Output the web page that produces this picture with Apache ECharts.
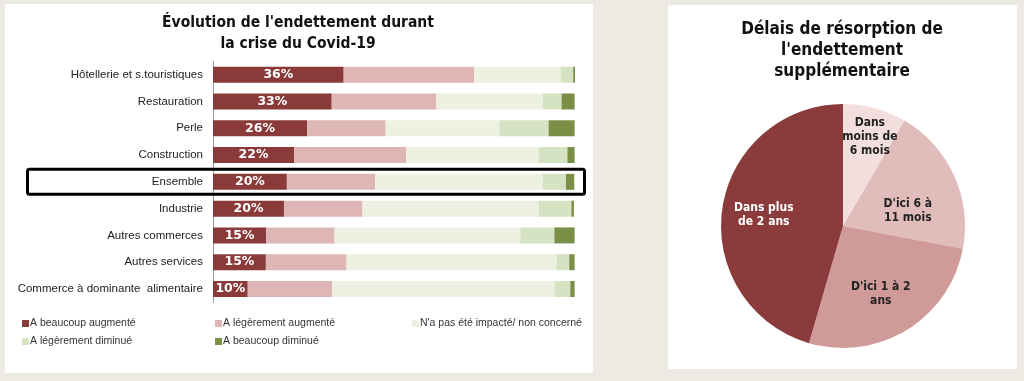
<!DOCTYPE html>
<html>
<head>
<meta charset="utf-8">
<script src="https://cdn.jsdelivr.net/npm/echarts@6/dist/echarts.min.js"></script>
<style>
html,body{margin:0;padding:0;background:#edeae3;}
#c{width:1024px;height:381px;}
</style>
</head>
<body>
<div id="c"></div>
<script>
// ---- Data ----
const categories = ['Hôtellerie et s.touristiques','Restauration','Perle','Construction','Ensemble','Industrie','Autres commerces','Autres services','Commerce à dominante  alimentaire'];
const seriesNames = ['A beaucoup augmenté','A légèrement augmenté',"N'a pas été impacté/ non concerné",'A légèrement diminué','A beaucoup diminué'];
const beaucoupAugmente = [36.1, 32.8, 26, 22.4, 20.4, 19.6, 14.7, 14.6, 9.6];
const legerementAugmente = [36.1, 28.9, 21.7, 31, 24.4, 21.7, 18.9, 22.3, 23.3];
const nonImpacte = [23.8, 29.4, 31.4, 36.5, 46.3, 48.7, 51.3, 58, 61.4];
const legerementDiminue = [3.5, 5.2, 13.6, 8, 6.4, 9, 9.4, 3.5, 4.4];
const beaucoupDiminue = [0.5, 3.6, 7.2, 2, 2.3, 0.7, 5.6, 1.5, 1.2];
const highlightCategory = 'Ensemble';

const pieNames = ['Dans moins de 6 mois', "D'ici 6 à 11 mois", "D'ici 1 à 2 ans", 'Dans plus de 2 ans'];
const pieLabels = ['Dans\nmoins de\n6 mois', "D'ici 6 à\n11 mois", "D'ici 1 à 2\nans", 'Dans plus\nde 2 ans'];
const pieValues = [8.4, 19.6, 26.5, 45.5];

const leftTitle = ["Évolution de l'endettement durant", 'la crise du Covid-19'];
const rightTitle = ['Délais de résorption de', "l'endettement", 'supplémentaire'];

// ---- Styles ----
const barColors = ['#8b3a3a', '#dfb6b6', '#ecf1e1', '#d6e3c2', '#7b9046'];
const pieColors = ['#f2dedd', '#e0bcba', '#cf9a98', '#8b3b3b'];
const barData = [beaucoupAugmente, legerementAugmente, nonImpacte, legerementDiminue, beaucoupDiminue];

const chart = echarts.init(document.getElementById('c'), null, {renderer: 'canvas'});

const legendPos = [[22, 318], [215, 318], [412, 318], [22, 336], [215, 336]];

const barSeries = seriesNames.map((n, i) => ({
  name: n,
  type: 'bar',
  stack: 'total',
  barWidth: 16,
  data: barData[i],
  itemStyle: {color: barColors[i]},
  label: i === 0 ? {
    show: true, position: 'inside', color: '#fff',
    fontFamily: 'DejaVu Sans', fontWeight: 'bold', fontSize: 12.5,
    formatter: p => Math.round(p.value) + '%'
  } : {show: false},
  emphasis: {disabled: true},
  animation: false
}));

const option = {
  animation: false,
  backgroundColor: '#edeae3',
  grid: {left: 213, right: 449, top: 61.3, bottom: 78.6, containLabel: false},
  xAxis: {type: 'value', min: 0, max: 100, show: false},
  yAxis: {
    type: 'category', data: categories, inverse: true,
    axisLine: {show: true, lineStyle: {color: '#9a9a9a', width: 1}},
    axisTick: {show: false},
    axisLabel: {margin: 10, color: '#222', fontFamily: 'Liberation Sans', fontSize: 11.5}
  },
  legend: seriesNames.map((n, i) => ({
    data: [n], left: legendPos[i][0], top: legendPos[i][1], padding: 0,
    itemWidth: 7, itemHeight: 7, icon: 'rect', selectedMode: false,
    textStyle: {color: '#333', fontFamily: 'Liberation Sans', fontSize: 10.5, padding: [0, 0, 0, -4]}
  })),
  series: barSeries.concat([
    {
      type: 'pie', center: [843, 226], radius: [0, 122], startAngle: 90, clockwise: true,
      silent: true, label: {show: false}, labelLine: {show: false},
      data: pieValues.map((v, i) => ({value: v, name: pieNames[i], itemStyle: {color: pieColors[i]}}))
    },
    {
      type: 'pie', center: [843, 226], radius: [32, 122], startAngle: 90, clockwise: true,
      silent: true, z: 5,
      itemStyle: {color: 'rgba(0,0,0,0)'},
      label: {
        show: true, position: 'inside', fontFamily: 'DejaVu Sans Condensed, DejaVu Sans', fontWeight: 'bold',
        fontSize: 12, lineHeight: 14, color: '#222', align: 'center',
        formatter: p => pieLabels[p.dataIndex]
      },
      labelLine: {show: false},
      labelLayout: p => (p.dataIndex === 0 ? {dx: 3, dy: -6} : p.dataIndex === 1 ? {dy: 9, dx: -4} : p.dataIndex === 2 ? {dx: -2, dy: 0} : {}),
      data: pieValues.map((v, i) => ({value: v, name: pieNames[i], label: i === 3 ? {color: '#fff'} : {}}))
    }
  ])
};
chart.setOption(option);

// Decorations: panels, titles, highlight frame
const ensY = chart.convertToPixel({yAxisIndex: 0}, highlightCategory);
chart.setOption({
  graphic: [
    {type: 'rect', z: -10, silent: true, shape: {x: 5, y: 4, width: 588, height: 369}, style: {fill: '#fff'}},
    {type: 'rect', z: -10, silent: true, shape: {x: 668, y: 5, width: 349, height: 364}, style: {fill: '#fff'}},
    {type: 'text', silent: true, x: 298, y: 12, style: {text: leftTitle.join('\n'), textAlign: 'center', fill: '#111',
      font: 'bold 15.5px "Liberation Sans Narrow", "DejaVu Sans Condensed", sans-serif', lineHeight: 21}},
    {type: 'text', silent: true, x: 842, y: 19, style: {text: rightTitle.join('\n'), textAlign: 'center', fill: '#111',
      font: 'bold 17px "DejaVu Sans Condensed", "DejaVu Sans", sans-serif', lineHeight: 21}},
    {type: 'rect', silent: true, z: 20, shape: {x: 27.5, y: ensY - 12.5, width: 557, height: 25, r: 2},
      style: {fill: 'none', stroke: '#000', lineWidth: 3}}
  ]
});
</script>
</body>
</html>
